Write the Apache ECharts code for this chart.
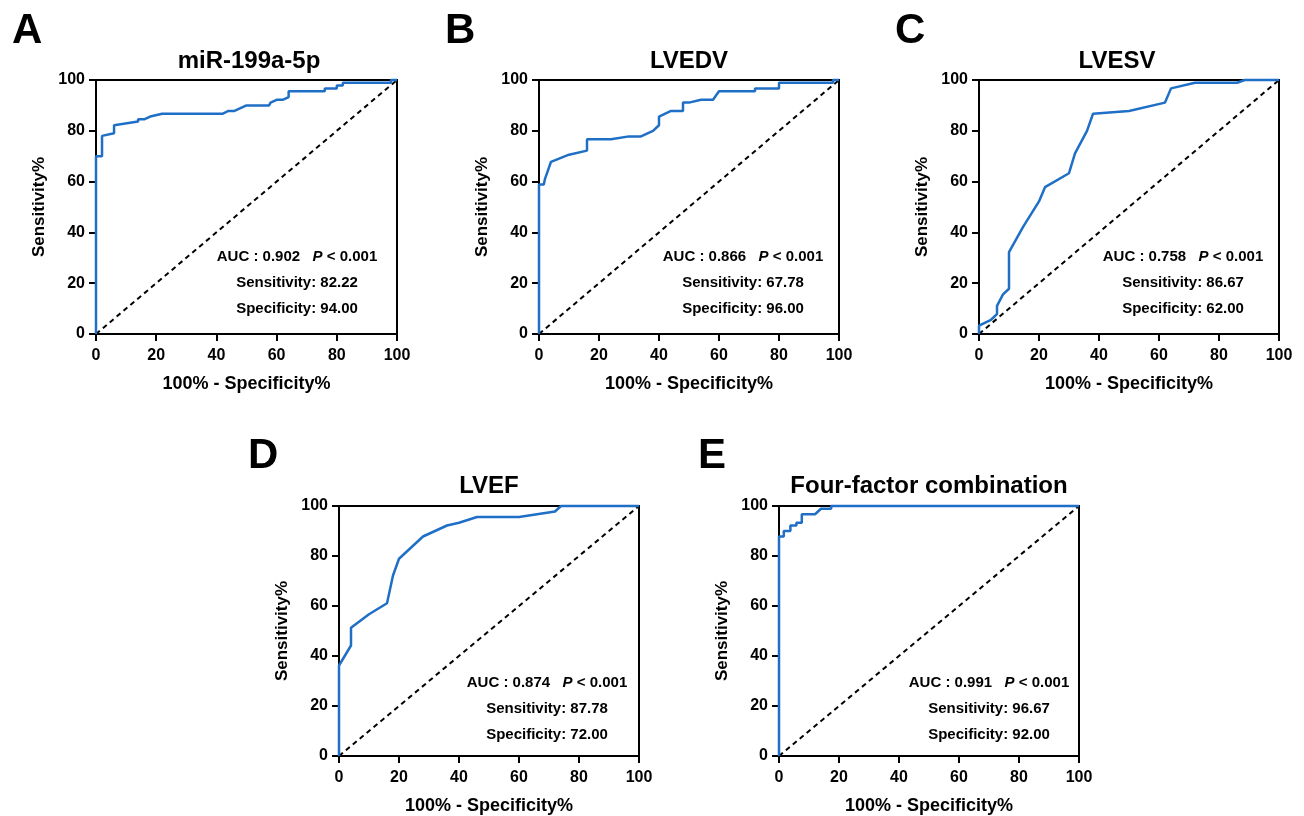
<!DOCTYPE html>
<html>
<head>
<meta charset="utf-8">
<title>ROC curves</title>
<script src="https://cdn.jsdelivr.net/npm/echarts@6/dist/echarts.min.js"></script>
<style>
  html, body { margin: 0; padding: 0; background: #fff; }
  #chart { width: 1304px; height: 816px; }
</style>
</head>
<body>
<div id="chart"></div>
<script>
// panel labels and titles
var letters = ['A', 'B', 'C', 'D', 'E']
var titles = ['miR-199a-5p', 'LVEDV', 'LVESV', 'LVEF', 'Four-factor combination']
var ticks = [0, 20, 40, 60, 80, 100]

// stats printed in each panel
var auc = ['0.902', '0.866', '0.758', '0.874', '0.991']
var sensitivity = ['82.22', '67.78', '86.67', '87.78', '96.67']
var specificity = ['94.00', '96.00', '62.00', '72.00', '92.00']

// ROC points: 100% - specificity% (x) and sensitivity% (y)
var rocA_x = [0, 0, 2, 2, 6, 6, 14, 14, 16, 18, 22, 42, 44, 46, 50, 57.5, 58, 60, 62, 64, 64, 76, 76, 80, 80, 82, 82, 98, 98, 100]
var rocA_y = [0, 70, 70, 78, 79, 82.2, 83.7, 84.5, 84.5, 85.6, 86.7, 86.7, 87.8, 87.8, 90, 90, 91.1, 92.2, 92.2, 93.3, 95.6, 95.6, 96.7, 96.7, 97.8, 97.8, 98.9, 98.9, 100, 100]

var rocB_x = [0, 0, 1.6, 2, 4, 10, 16, 16, 24, 30, 34, 38, 40, 40, 44, 48, 48, 50, 54, 58, 60, 72, 72, 80, 80, 98, 98, 100]
var rocB_y = [0, 58.9, 58.9, 61.1, 67.8, 70.6, 72.2, 76.7, 76.7, 77.8, 77.8, 80, 82.2, 85.6, 87.8, 87.8, 91.1, 91.1, 92.2, 92.2, 95.6, 95.6, 96.7, 96.7, 98.9, 98.9, 100, 100]

var rocC_x = [0, 0, 4, 6, 6, 8, 10, 10, 14.7, 20, 22, 30, 32, 36, 38, 50, 62, 64, 72, 86, 88.6, 100]
var rocC_y = [0, 3.3, 5.6, 7.8, 11.1, 15.6, 17.8, 32.2, 42.2, 52.2, 57.8, 63.3, 71.1, 80, 86.7, 87.8, 91.1, 96.7, 98.9, 98.9, 100, 100]

var rocD_x = [0, 0, 4, 4, 10, 16, 18, 20, 28, 36, 40, 46, 60, 72, 74, 100]
var rocD_y = [0, 36.2, 44.2, 51.3, 56.7, 61.1, 72.2, 78.9, 87.8, 92.2, 93.3, 95.6, 95.6, 97.8, 100, 100]

var rocE_x = [0, 0, 1.6, 1.6, 3.8, 3.8, 5.8, 5.8, 7.6, 7.6, 12, 14, 17.4, 17.4, 100]
var rocE_y = [0, 87.8, 87.8, 90, 90, 92.2, 92.2, 93.3, 93.3, 96.7, 96.7, 98.9, 98.9, 100, 100]

var rocX = [rocA_x, rocB_x, rocC_x, rocD_x, rocE_x]
var rocY = [rocA_y, rocB_y, rocC_y, rocD_y, rocE_y]

// layout of each panel (pixels)
var panels = [
  { left: 96, top: 80, width: 301, height: 254, letterX: 12, titleX: 249, statX: 297 },
  { left: 539, top: 80, width: 300, height: 254, letterX: 445, titleX: 689, statX: 743 },
  { left: 979, top: 80, width: 300, height: 254, letterX: 895, titleX: 1117, statX: 1183 },
  { left: 339, top: 506, width: 300, height: 253, letterX: 248, titleX: 489, statX: 547 },
  { left: 779, top: 506, width: 300, height: 253, letterX: 698, titleX: 929, statX: 989 }
]

var FONT = '"Liberation Sans", Arial, sans-serif'
var BLUE = '#1f6fc6'

var grids = []
var xAxes = []
var yAxes = []
var series = []
var graphics = []

panels.forEach(function (p, i) {
  grids.push({
    left: p.left, top: p.top, width: p.width, height: p.height,
    show: true, borderColor: '#000', borderWidth: 2, backgroundColor: 'transparent'
  })
  var axisCommon = {
    type: 'value', gridIndex: i, min: 0, max: 100, interval: 20,
    axisLine: { show: true, onZero: false, lineStyle: { color: '#000', width: 2 } },
    axisTick: { show: true, length: 7, lineStyle: { color: '#000', width: 2 } },
    splitLine: { show: false },
    nameLocation: 'middle'
  }
  xAxes.push(Object.assign({}, axisCommon, {
    name: '100% - Specificity%',
    nameGap: 41,
    nameTextStyle: { color: '#000', fontFamily: FONT, fontWeight: 'bold', fontSize: 18 },
    axisLabel: { color: '#000', fontFamily: FONT, fontWeight: 'bold', fontSize: 16, margin: 14 }
  }))
  yAxes.push(Object.assign({}, axisCommon, {
    name: 'Sensitivity%',
    nameGap: 48,
    nameTextStyle: { color: '#000', fontFamily: FONT, fontWeight: 'bold', fontSize: 17 },
    axisLabel: { color: '#000', fontFamily: FONT, fontWeight: 'bold', fontSize: 16, margin: 11 }
  }))

  series.push({
    type: 'line', xAxisIndex: i, yAxisIndex: i,
    data: [[0, 0], [100, 100]],
    symbol: 'none', silent: true, clip: false, z: 2,
    lineStyle: { color: '#000', width: 2, type: [5, 4] }
  })
  var pts = rocX[i].map(function (x, k) { return [x, rocY[i][k]] })
  series.push({
    type: 'line', xAxisIndex: i, yAxisIndex: i,
    data: pts,
    symbol: 'none', silent: true, clip: false, z: 3,
    lineStyle: { color: BLUE, width: 2.5 }
  })

  var rowY = p.top < 300 ? 0 : 425
  graphics.push({
    type: 'text', left: p.letterX, top: 10 + rowY,
    style: { text: letters[i], font: 'bold 42px ' + FONT, fill: '#000' }
  })
  graphics.push({
    type: 'text', x: p.titleX, y: 61 + rowY,
    style: { text: titles[i], font: 'bold 24px ' + FONT, fill: '#000', textAlign: 'center', textVerticalAlign: 'middle' }
  })
  var statY = p.top + 177
  graphics.push({
    type: 'text', x: p.statX, y: statY,
    style: {
      text: '{b|AUC : ' + auc[i] + '   }{i|P}{b| < 0.001}',
      textAlign: 'center', textVerticalAlign: 'middle',
      rich: {
        b: { font: 'bold 15px ' + FONT, fill: '#000' },
        i: { font: 'italic bold 15px ' + FONT, fill: '#000' }
      }
    }
  })
  graphics.push({
    type: 'text', x: p.statX, y: statY + 26,
    style: { text: 'Sensitivity: ' + sensitivity[i], font: 'bold 15px ' + FONT, fill: '#000', textAlign: 'center', textVerticalAlign: 'middle' }
  })
  graphics.push({
    type: 'text', x: p.statX, y: statY + 52,
    style: { text: 'Specificity: ' + specificity[i], font: 'bold 15px ' + FONT, fill: '#000', textAlign: 'center', textVerticalAlign: 'middle' }
  })
})

var chart = echarts.init(document.getElementById('chart'), null, { renderer: 'canvas' })
chart.setOption({
  backgroundColor: '#fff',
  animation: false,
  grid: grids,
  xAxis: xAxes,
  yAxis: yAxes,
  series: series,
  graphic: graphics
})
</script>
</body>
</html>
